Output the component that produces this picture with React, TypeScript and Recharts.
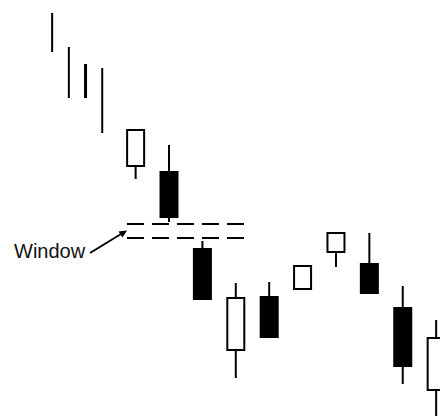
import React from 'react';
import { ComposedChart, Bar, XAxis, YAxis, ReferenceLine } from 'recharts';

// session slots (first four sessions were plotted closer together)
const slots = [0, 0.5, 1, 1.5, 2.5, 3.5, 4.5, 5.5, 6.5, 7.5, 8.5, 9.5, 10.5, 11.5];
const highs = [110.75, 102.25, 98, 97, 81.5, 77.75, 53.75, 43.25, 43.5, 47.5, 55.75, 55.75, 42.5, 34];
const lows = [101, 89.5, 89.5, 80.75, 69.25, 58.5, 39.25, 19.5, 29.75, 41.75, 47.25, 40.75, 18, 6];
// null = plain bar, no real body drawn
const opens = [null, null, null, null, 72.5, 71, 51.75, 26.5, 39.75, 41.75, 51, 48, 37, 16.5];
const closes = [null, null, null, null, 81.5, 59.75, 39.25, 39.5, 29.75, 47.5, 55.75, 40.75, 22.5, 29.5];

// the window (gap) between session 6 and 7
const windowTop = 58;
const windowBottom = 54.5;
const windowFrom = 2.23;
const windowTo = 5.8;

const data = slots.map((slot, i) => ({
  slot,
  range: [lows[i], highs[i]],
  open: opens[i],
  close: closes[i],
  thick: i === 2
}));

const INK = '#000';

const Candle = (props: any) => {
  const { x, y, width, height, payload } = props;
  if (x == null || y == null) return null;
  const cx = x + width / 2;
  const top = Math.min(y, y + height);
  const bottom = Math.max(y, y + height);
  const [low, high] = payload.range;
  const toY = (v: number) => top + ((high - v) / (high - low)) * (bottom - top);

  if (payload.open == null) {
    return (
      <line x1={cx} x2={cx} y1={top} y2={bottom} stroke={INK} strokeWidth={payload.thick ? 3 : 2} />
    );
  }

  const up = payload.close >= payload.open;
  const bodyTop = toY(Math.max(payload.open, payload.close));
  const bodyBottom = toY(Math.min(payload.open, payload.close));
  const bw = 17;

  return (
    <g>
      <line x1={cx} x2={cx} y1={top} y2={bodyTop} stroke={INK} strokeWidth={2} />
      <line x1={cx} x2={cx} y1={bodyBottom} y2={bottom} stroke={INK} strokeWidth={2} />
      <rect
        x={cx - bw / 2}
        y={bodyTop}
        width={bw}
        height={Math.max(bodyBottom - bodyTop, 1)}
        fill={up ? '#fff' : INK}
        stroke={INK}
        strokeWidth={2}
      />
    </g>
  );
};

export default function App() {
  return (
    <div style={{ position: 'absolute', left: 0, top: 0, width: 440, height: 416, background: '#fff', overflow: 'hidden' }}>
      <ComposedChart width={440} height={416} data={data} margin={{ top: 0, right: 0, bottom: 0, left: 0 }}>
        <XAxis dataKey="slot" type="number" domain={[-1.572, 11.605]} allowDataOverflow hide />
        <YAxis type="number" domain={[10, 114]} allowDataOverflow hide />
        <ReferenceLine
          segment={[{ x: windowFrom, y: windowTop }, { x: windowTo, y: windowTop }]}
          stroke={INK}
          strokeWidth={2}
          strokeDasharray="17 8"
          ifOverflow="visible"
        />
        <ReferenceLine
          segment={[{ x: windowFrom, y: windowBottom }, { x: windowTo, y: windowBottom }]}
          stroke={INK}
          strokeWidth={2}
          strokeDasharray="17 8"
          ifOverflow="visible"
        />
        <Bar dataKey="range" barSize={16} shape={<Candle />} isAnimationActive={false} />
      </ComposedChart>
      <svg width={440} height={416} style={{ position: 'absolute', left: 0, top: 0, pointerEvents: 'none' }}>
        <text x={14} y={258} fontFamily="'Liberation Sans', Arial, sans-serif" fontSize={20} fill="#111">
          Window
        </text>
        <line x1={90} y1={253} x2={121} y2={234} stroke={INK} strokeWidth={2} />
        <polygon points="127,230.5 118.5,231.5 122.5,237.5" fill={INK} />
      </svg>
    </div>
  );
}
